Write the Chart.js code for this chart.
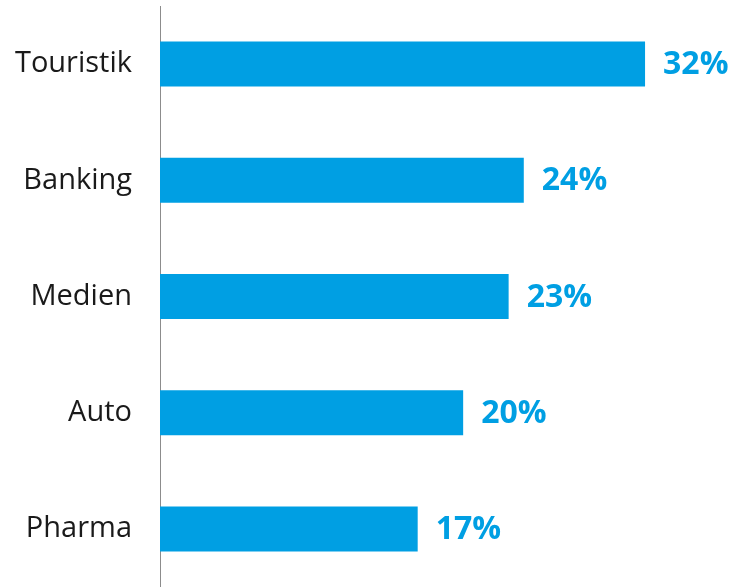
<!DOCTYPE html>
<html>
<head>
<meta charset="utf-8">
<script src="https://cdn.jsdelivr.net/npm/chart.js@4"></script>
<style>
  html, body { margin: 0; padding: 0; background: #fff; }
  #wrap { width: 736px; height: 587px; }
</style>
</head>
<body>
<div id="wrap"><canvas id="branchenChart"></canvas></div>
<script>
const branchen = ['Touristik', 'Banking', 'Medien', 'Auto', 'Pharma'];
const anteile = [32, 24, 23, 20, 17];

const blau = '#009fe3';

// Prozentwerte rechts neben die Balken schreiben
const wertLabels = {
  id: 'wertLabels',
  afterDatasetsDraw(chart) {
    const ctx = chart.ctx;
    const meta = chart.getDatasetMeta(0);
    ctx.save();
    ctx.font = 'bold 32px "Open Sans"';
    ctx.fillStyle = blau;
    ctx.textAlign = 'left';
    ctx.textBaseline = 'middle';
    meta.data.forEach((bar, i) => {
      ctx.fillText(anteile[i] + '%', bar.x + 18, bar.y + 1);
    });
    ctx.restore();
  }
};

new Chart(document.getElementById('branchenChart'), {
  type: 'bar',
  data: {
    labels: branchen,
    datasets: [{
      data: anteile,
      backgroundColor: blau,
      borderWidth: 0,
      categoryPercentage: 1,
      barPercentage: 0.387
    }]
  },
  options: {
    indexAxis: 'y',
    responsive: true,
    maintainAspectRatio: false,
    animation: false,
    layout: { padding: { top: 6, right: 0, bottom: 0, left: 0 } },
    plugins: {
      legend: { display: false },
      tooltip: { enabled: false }
    },
    scales: {
      x: {
        display: false,
        min: 0,
        max: 38
      },
      y: {
        afterFit(scale) {
          scale.width = 160;
          scale.paddingTop = 0;
          scale.paddingBottom = 0;
        },
        grid: { display: false, drawTicks: false },
        border: { display: true, color: '#8c8c8c', width: 1 },
        ticks: {
          color: '#1a1a1a',
          padding: 28,
          font: { family: 'Open Sans', size: 29 }
        }
      }
    }
  },
  plugins: [wertLabels]
});
</script>
</body>
</html>
